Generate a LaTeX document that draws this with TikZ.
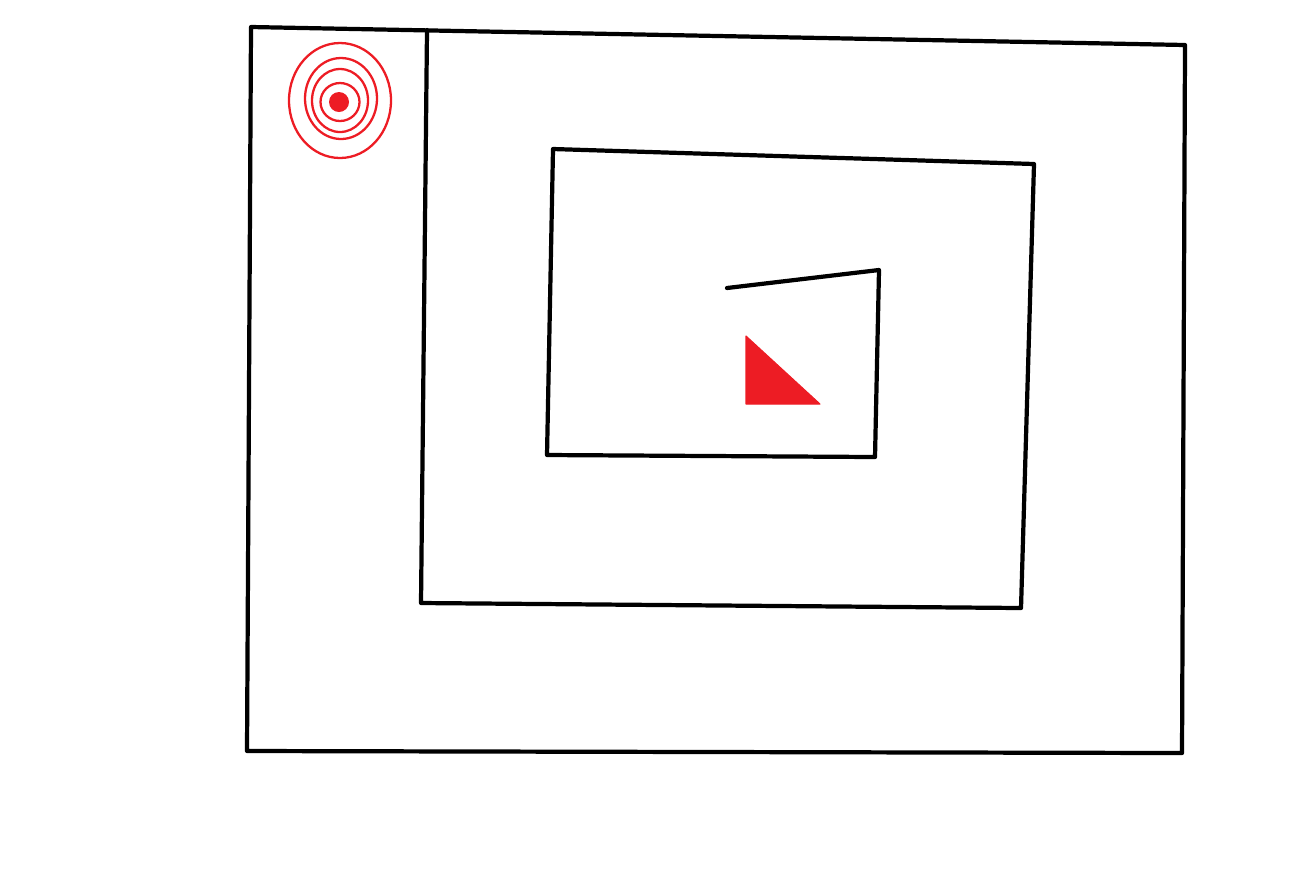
\documentclass[tikz,border=0pt]{standalone}
\usepackage{tikz}
\definecolor{targetred}{RGB}{237,28,36}

\begin{document}
\begin{tikzpicture}[
    x=0.02cm, y=-0.02cm,
    wall/.style={draw=black, line width=2.4pt, line cap=round, line join=round},
    ring/.style={draw=targetred, line width=1.3pt},
    marker/.style={fill=targetred, draw=targetred, line width=0.6pt, line join=round}
]
\useasboundingbox (0,0) rectangle (1293,894);

% outer frame
\draw[wall] (247,751) -- (251,27) -- (1185,45) -- (1182,753) -- cycle;
% spiral walls
\draw[wall] (427,30) -- (421,603) -- (1021,608) -- (1034,164) -- (553,149)
    -- (547,455) -- (875,457) -- (879,270) -- (727,288);

% target rings
\draw[ring] (340,100.5) ellipse (51 and 57.5);
\draw[ring] (341,98.5) ellipse (36 and 40.5);
\draw[ring] (340,100.5) ellipse (28 and 31.5);
\draw[ring] (340,102) ellipse (19.5 and 19);
\fill[targetred] (339,102) circle (10);

% red triangle
\draw[marker] (746,336) -- (746,404) -- (820,404) -- cycle;
\end{tikzpicture}
\end{document}
